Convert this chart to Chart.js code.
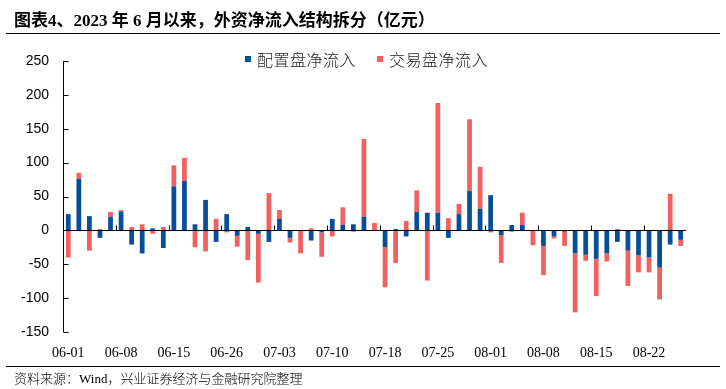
<!DOCTYPE html>
<html>
<head>
<meta charset="utf-8">
<script src="https://cdn.jsdelivr.net/npm/chart.js@4.4.0/dist/chart.umd.min.js"></script>
<style>
  html, body { margin:0; padding:0; background:#fff; }
  #wrap { position:relative; width:726px; height:389px; overflow:hidden; }
  #c { position:absolute; left:0; top:0; }
  .title { position:absolute; left:14px; top:6px; font-family:"Liberation Serif","Noto Sans CJK SC",serif; font-weight:bold; font-size:17px; color:#000; white-space:nowrap; }
  .title .cjk { font-family:"Noto Sans CJK SC",sans-serif; }
  .hline { position:absolute; left:6px; width:714px; height:1px; background:#000; }
  .legend { position:absolute; top:47px; font-family:"Noto Sans CJK SC",sans-serif; font-size:16px; font-weight:300; letter-spacing:0.5px; color:#222; white-space:nowrap; display:flex; align-items:center; }
  .legend .sw { width:6px; height:6px; margin-right:6px; }
  .source { position:absolute; left:14px; top:368px; font-family:"Noto Sans CJK SC",sans-serif; font-size:13px; font-weight:300; color:#000; white-space:nowrap; }
</style>
</head>
<body>
<div id="wrap">
  <canvas id="c" width="726" height="389"></canvas>
  <div class="title"><span class="cjk">图表</span>4<span class="cjk">、</span>2023 <span class="cjk">年</span> 6 <span class="cjk">月以来，外资净流入结构拆分（亿元）</span></div>
  <div class="hline" style="top:33px"></div>
  <div class="legend" id="lg1" style="left:245px"></div>
  <div class="legend" id="lg2" style="left:377px"></div>
  <div class="hline" style="top:366px"></div>
  <div class="source">资料来源：<span style="font-family:'Liberation Serif',serif">Wind</span>，兴业证券经济与金融研究院整理</div>
</div>
<script>
const dates = [
  "06-01","06-02","06-05","06-06","06-07","06-08","06-09","06-12","06-13","06-14",
  "06-15","06-16","06-19","06-20","06-21","06-26","06-27","06-28","06-29","06-30",
  "07-03","07-04","07-05","07-06","07-07","07-10","07-11","07-12","07-13","07-14",
  "07-18","07-19","07-20","07-21","07-24","07-25","07-26","07-27","07-28","07-31",
  "08-01","08-02","08-03","08-04","08-07","08-08","08-09","08-10","08-11","08-14",
  "08-15","08-16","08-17","08-18","08-21","08-22","08-23","08-24","08-25"
];
const seriesNames = ["配置盘净流入", "交易盘净流入"];
const allocationFlow = [
  24, 76, 21, -11, 20, 28, -21, -34, 3, -26,
  65, 73, 9, 45, -17, 24, -8, 5, -5, -17,
  17, -11, 0, -15, -3, 17, 8, 9, 20, 0,
  -25, 2, -9, 27, 26, 26, -11, 24, 58, 32,
  52, -7, 8, 8, 0, -23, -9, -2, -34, -36,
  -42, -34, -17, -30, -37, -40, -55, -21, -14
];
const tradingFlow = [
  -40, 9, -30, 2, 7, 2, 5, 9, -5, 5,
  31, 34, -25, -31, 17, -3, -16, -44, -72, 55,
  13, -7, -34, 3, -36, -9, 26, -2, 115, 11,
  -59, -48, 14, 32, -74, 162, 18, 15, 106, 62,
  -3, -41, -2, 18, -22, -43, -3, -21, -87, -9,
  -55, -12, 2, -52, -25, -22, -47, 54, -9
];
const yTicks = [250, 200, 150, 100, 50, 0, -50, -100, -150];
const labelEvery = 5;

const BLUE = "#064E99";
const RED = "#F0615F";

[["lg1", BLUE, seriesNames[0]], ["lg2", RED, seriesNames[1]]].forEach(([id, col, txt]) => {
  const el = document.getElementById(id);
  el.innerHTML = '<span class="sw" style="background:' + col + '"></span><span>' + txt + '</span>';
});

const axisMarks = {
  id: "axisMarks",
  afterDatasetsDraw(chart) {
    const ctx = chart.ctx;
    const x = chart.scales.x, y = chart.scales.y;
    const a = chart.chartArea;
    ctx.save();
    ctx.strokeStyle = "#000";
    ctx.lineWidth = 1;
    const y0 = Math.round(y.getPixelForValue(0)) + 0.5;
    ctx.beginPath();
    ctx.moveTo(a.left, y0);
    ctx.lineTo(a.right, y0);
    ctx.stroke();
    const xl = Math.round(a.left) + 0.5;
    ctx.beginPath();
    ctx.moveTo(xl, y.getPixelForValue(yTicks[0]));
    ctx.lineTo(xl, y.getPixelForValue(yTicks[yTicks.length - 1]));
    yTicks.forEach(v => {
      const py = Math.round(y.getPixelForValue(v)) + 0.5;
      ctx.moveTo(xl, py);
      ctx.lineTo(xl + 5, py);
    });
    ctx.stroke();
    ctx.beginPath();
    for (let i = labelEvery - 1; i < dates.length - 1; i += labelEvery) {
      const px = Math.round((x.getPixelForValue(i) + x.getPixelForValue(i + 1)) / 2) + 0.5;
      ctx.moveTo(px, y0);
      ctx.lineTo(px, y0 - 5);
    }
    ctx.stroke();
    ctx.restore();
  }
};

new Chart(document.getElementById("c"), {
  type: "bar",
  data: {
    labels: dates,
    datasets: [
      { label: seriesNames[0], data: allocationFlow, backgroundColor: BLUE, stack: "s" },
      { label: seriesNames[1], data: tradingFlow, backgroundColor: RED, stack: "s" }
    ]
  },
  options: {
    responsive: false,
    devicePixelRatio: 1,
    animation: false,
    layout: { padding: { left: 0, right: 40, top: 61, bottom: 0 } },
    plugins: { legend: { display: false }, title: { display: false }, tooltip: { enabled: false } },
    datasets: { bar: { categoryPercentage: 1, barPercentage: 0.45 } },
    scales: {
      x: {
        stacked: true,
        grid: { display: false, drawTicks: false },
        border: { display: false },
        afterFit(s) { s.height = 57; },
        ticks: {
          autoSkip: false, maxRotation: 0, minRotation: 0, padding: 13,
          color: "#000",
          font: { family: "Liberation Serif", size: 14 },
          callback(v, i) { return i % labelEvery === 0 ? dates[i] : ""; }
        }
      },
      y: {
        stacked: true,
        min: -150, max: 250,
        grid: { display: false, drawTicks: false },
        border: { display: false },
        afterFit(s) { s.width = 63; },
        afterBuildTicks(s) { s.ticks = yTicks.map(v => ({ value: v })); },
        ticks: {
          padding: 14,
          color: "#000",
          font: { family: "Liberation Sans", size: 14 }
        }
      }
    }
  },
  plugins: [axisMarks]
});
</script>
</body>
</html>
